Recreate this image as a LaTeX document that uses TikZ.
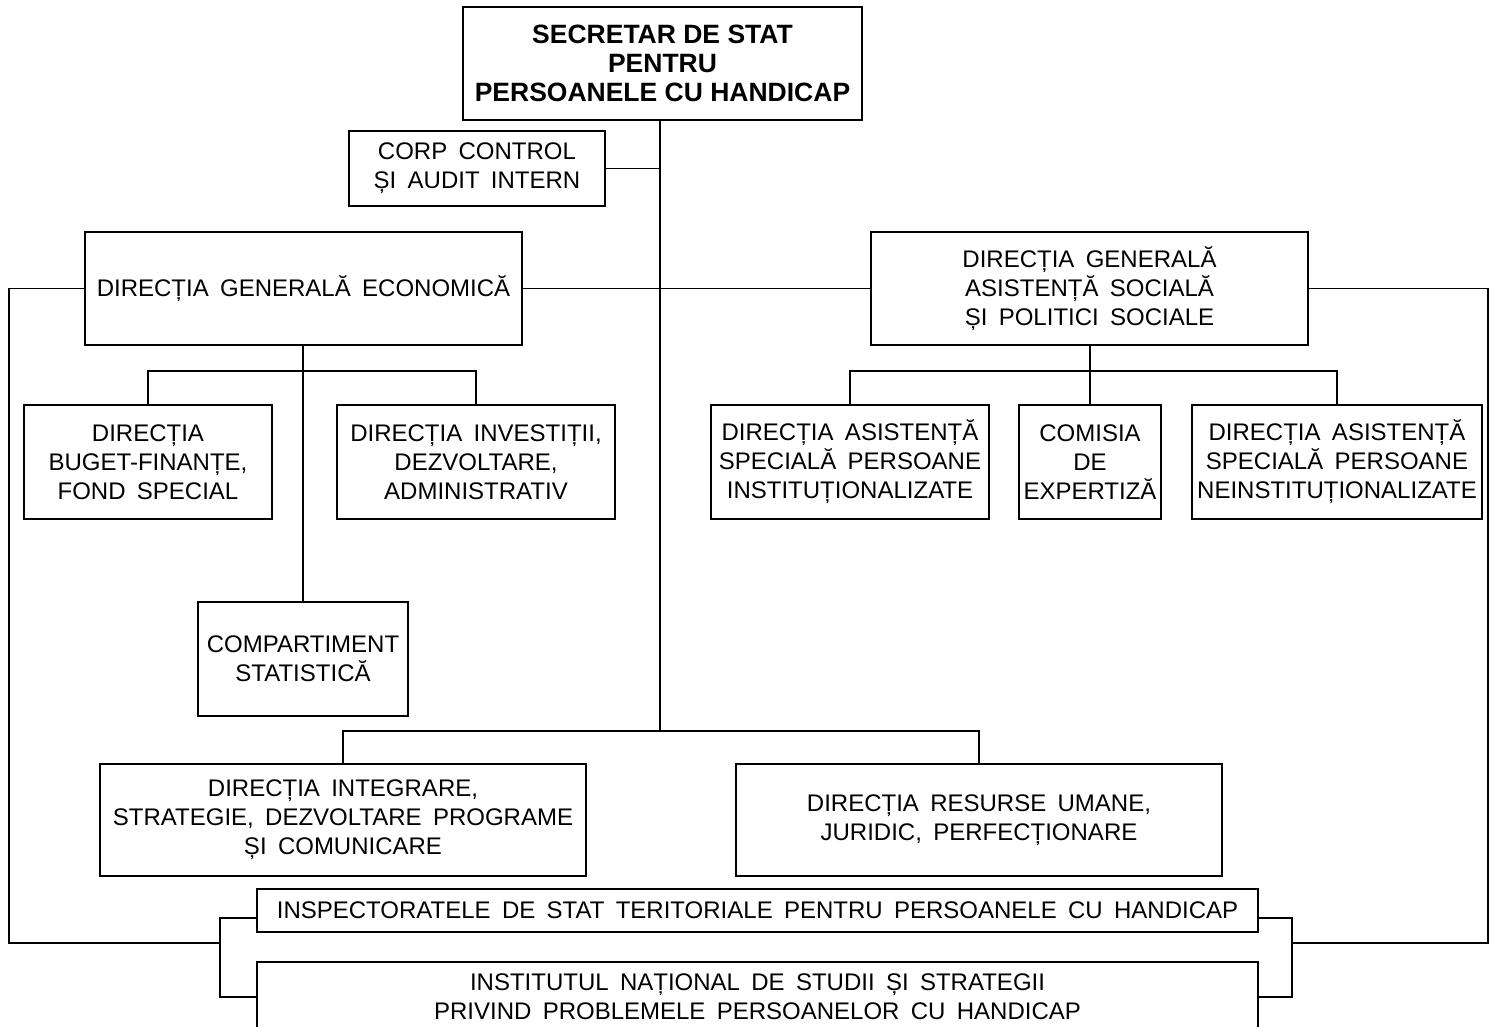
\documentclass[tikz,border=0pt]{standalone}
\usepackage{fontspec}
\setmainfont{Liberation Sans}[WordSpace=1.7]
\newfontfamily\chieffont{Liberation Sans}
\usepackage{tikz}
\usetikzlibrary{positioning}

\begin{document}
\begin{tikzpicture}[x=1pt,y=-1pt,line width=1.6pt,
	unit/.style={draw,rectangle,align=center,inner sep=0pt,font=\fontsize{24}{29}\selectfont},
	chief/.style={unit,font=\chieffont\bfseries\fontsize{26.5}{29}\selectfont}]
	
	\useasboundingbox (0,0) rectangle (1497,1027);
	
	\node (sec) [chief, minimum width=399, minimum height=113] at (662.5,63.5) {SECRETAR DE STAT\\PENTRU\\PERSOANELE CU HANDICAP};
	\node (corp) [unit, minimum width=256, minimum height=75] at (477,168.5) {CORP CONTROL\\ȘI AUDIT INTERN};
	
	\node (econ) [unit, minimum width=437, minimum height=113] at (303.5,288.5) {DIRECȚIA GENERALĂ ECONOMICĂ};
	\node (dgas) [unit, minimum width=437, minimum height=113] at (1089.5,288.5) {DIRECȚIA GENERALĂ\\ASISTENȚĂ SOCIALĂ\\ȘI POLITICI SOCIALE};
	
	\node (buget) [unit, minimum width=248, minimum height=114] at (148,462) {DIRECȚIA\\BUGET-FINANȚE,\\FOND SPECIAL};
	\node (invest) [unit, minimum width=278, minimum height=114] at (476,462) {DIRECȚIA INVESTIȚII,\\DEZVOLTARE,\\ADMINISTRATIV};
	\node (comp) [unit, minimum width=210, minimum height=114] at (303,659) {COMPARTIMENT\\STATISTICĂ};
	
	\node (instit) [unit, minimum width=278, minimum height=114] at (850,462) {DIRECȚIA ASISTENȚĂ\\SPECIALĂ PERSOANE\\INSTITUȚIONALIZATE};
	\node (comisia) [unit, minimum width=142, minimum height=114] at (1090,462) {COMISIA\\DE\\EXPERTIZĂ};
	\node (neinst) [unit, minimum width=290, minimum height=114] at (1337,462) {DIRECȚIA ASISTENȚĂ\\SPECIALĂ PERSOANE\\NEINSTITUȚIONALIZATE};
	
	\node (integ) [unit, minimum width=486, minimum height=112] at (343,820) {DIRECȚIA INTEGRARE,\\STRATEGIE, DEZVOLTARE PROGRAME\\ȘI COMUNICARE};
	\node (resurse) [unit, minimum width=486, minimum height=112] at (979,820) {DIRECȚIA RESURSE UMANE,\\JURIDIC, PERFECȚIONARE};
	
	\node (insp) [unit, minimum width=1001, minimum height=43] at (757.5,910.5) {INSPECTORATELE DE STAT TERITORIALE PENTRU PERSOANELE CU HANDICAP};
	\node (inns) [unit, minimum width=1001, minimum height=70] at (757.5,997) {INSTITUTUL NAȚIONAL DE STUDII ȘI STRATEGII\\PRIVIND PROBLEMELE PERSOANELOR CU HANDICAP};
	
	\coordinate (trunk) at (660,732);
	\coordinate (lfork) at (220,943);
	\coordinate (rfork) at (1292,943);
	
	\draw (sec.south -| trunk) -- (trunk);
	\draw (corp.east) -- (corp.east -| trunk);
	\draw (econ.east) -- (dgas.west);
	
	\draw (econ.south -| comp.north) -- (comp.north);
	\draw (buget.north) -- ++(0,-33) -| (invest.north);
	
	\draw (dgas.south -| comisia.north) -- (comisia.north);
	\draw (instit.north) -- ++(0,-33) -| (neinst.north);
	
	\draw (integ.north) -- ++(0,-32) -| (resurse.north);
	
	\draw (econ.west) -- (9,288.5) |- (lfork);
	\draw (insp.west |- 0,918) -| (lfork |- inns.west) -- (inns.west);
	\draw (dgas.east) -- (1488,288.5) |- (rfork);
	\draw (insp.east |- 0,918) -| (rfork |- inns.east) -- (inns.east);
\end{tikzpicture}
\end{document}
